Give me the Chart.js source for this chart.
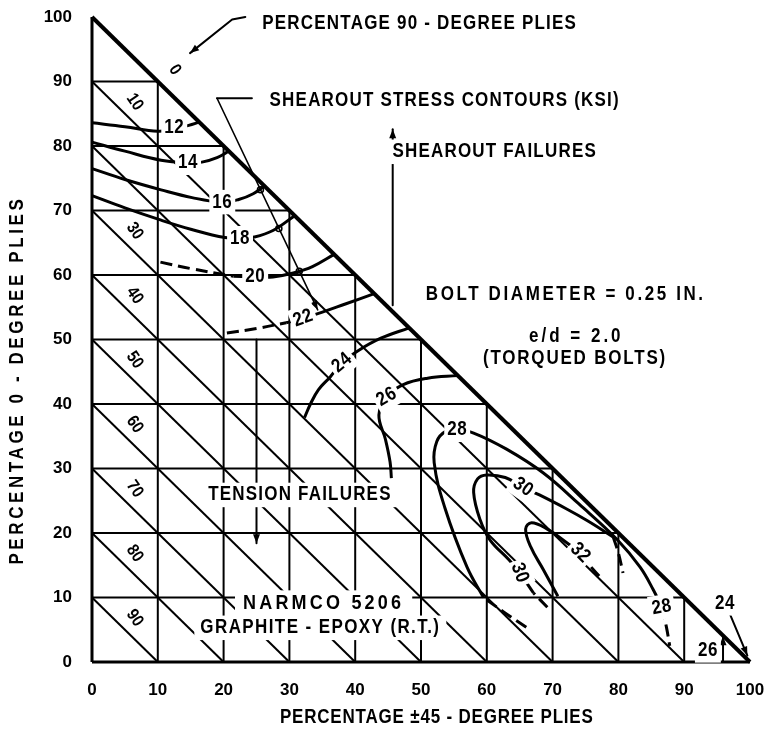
<!DOCTYPE html>
<html>
<head>
<meta charset="utf-8">
<script src="https://cdn.jsdelivr.net/npm/chart.js@4.4.0/dist/chart.umd.min.js"></script>
<style>
  html, body { margin: 0; padding: 0; background: #fff; }
  #wrap { width: 775px; height: 745px; }
</style>
</head>
<body>
<div id="wrap"><canvas id="c" width="775" height="745"></canvas></div>
<script>
// Laminate composition grid: % 0-degree plies (y) vs % ±45-degree plies (x);
// the remainder is 90-degree plies, so the lines x + y = const carry those labels.
const tickValues = [0, 10, 20, 30, 40, 50, 60, 70, 80, 90, 100];
const ply90Labels = [0, 10, 30, 40, 50, 60, 70, 80, 90];

// Shearout stress contours (ksi), each as [% ±45, % 0-degree] points
const ksi12 = [[0, 83.6], [5, 83], [10, 82.3], [12.5, 82.6], [14.7, 83.2], [16.3, 83.7]];
const ksi14 = [[0, 80.6], [5, 79.2], [10.5, 77.8], [14.6, 77.4], [16.7, 77.5], [19, 78.2], [20.8, 79.2]];
const ksi16 = [[0, 76.5], [5, 74.8], [10.5, 73.2], [15.2, 72], [19.8, 71.3], [22.3, 71.7], [24.5, 72.6], [26.2, 73.8]];
const ksi18 = [[0, 72.3], [5, 70.4], [10.5, 68.5], [15, 67.1], [20.2, 65.8], [22.5, 65.7], [24.7, 65.9], [27.5, 66.9], [30.8, 69.2]];
const ksi20Dash = [[10.4, 62], [15, 61], [21.5, 59.8]];
const ksi20 = [[21.5, 59.8], [24.8, 59.7], [27.5, 59.7], [30.6, 60.3], [33.5, 61.3], [36.8, 63.2]];
const ksi22Dash = [[20.5, 51], [25, 51.7], [29.5, 52.6]];
const ksi22 = [[29.5, 52.6], [32.1, 53.3], [34.9, 54.2], [38.5, 55.5], [42.9, 57.1]];
const ksi24 = [[32.3, 37.9], [33.2, 40], [34.4, 42.2], [36.2, 44.2], [38, 46.4], [40.5, 48.3], [43.9, 50.2], [48.2, 51.8]];
const ksi26 = [[45.5, 28.5], [45.3, 31], [44.6, 34.5], [43.6, 38.3], [44.8, 41.1], [47.3, 43], [51, 44], [55.6, 44.4]];
const ksi28 = [[59.5, 10], [57, 14.7], [53.6, 24], [52, 30.9], [52.4, 34.2], [53.8, 35.8], [55.5, 36], [58, 35.5], [63, 33], [68.6, 29.3], [74, 24.5], [79.8, 19], [83.3, 14.7], [85.3, 11.2], [86.6, 8.5]];
const ksi28DashLeft = [[66, 5.4], [62.5, 7.8], [59.5, 10]];
const ksi28DashRight = [[86.6, 8.5], [87.3, 5.4], [87.8, 2.5]];
const ksi30 = [[67.1, 10.7], [65, 13.8], [63.4, 15.8], [60.5, 18.9], [59, 22], [58, 26.3], [58.6, 28.4], [60, 29], [62.8, 28.6], [65.5, 27.1], [68, 25.9], [72, 23.8], [75.3, 21.9], [79.2, 19.4]];
const ksi30DashLow = [[69.2, 8.5], [67.1, 10.7]];
const ksi30DashRight = [[79.2, 19.4], [80, 16.9], [80.7, 13.8]];
const ksi32 = [[70.8, 10.2], [68.6, 14.3], [66.7, 17.8], [65.9, 20.6], [66.8, 21.6], [69.2, 20.6], [72, 18.6], [74.2, 16.9]];
const ksi32Dash = [[74.2, 16.9], [76.2, 14.3], [77.7, 12.7]];

const FONT = '"Liberation Sans", Arial, sans-serif';
const INK = '#000';

function line(points, width, opts = {}) {
  return Object.assign({
    data: points.map(([x, y]) => ({ x, y })),
    showLine: true,
    borderColor: INK,
    borderWidth: width,
    pointRadius: 0,
    tension: 0,
    fill: false,
    clip: false
  }, opts);
}

// Triangle grid built from the tick values
const datasets = [];
const inner = tickValues.filter(v => v > 0 && v < 100);
inner.forEach(v => {
  datasets.push(line([[0, v], [100 - v, v]], 2));   // constant % 0-degree
  datasets.push(line([[v, 0], [v, 100 - v]], 2));   // constant % ±45
  datasets.push(line([[0, v], [v, 0]], 2));         // constant % 90-degree
});
datasets.push(line([[0, 0], [0, 100]], 3));
datasets.push(line([[0, 0], [100, 0]], 3));
datasets.push(line([[0, 100], [100, 0]], 4));

// Contours
const curve = { tension: 0.4 };
const dashed = { tension: 0.4, borderDash: [12, 6] };
[ksi12, ksi14, ksi16, ksi18, ksi20, ksi22, ksi24, ksi26, ksi28, ksi30, ksi32]
  .forEach(c => datasets.push(line(c, 3, curve)));
[ksi20Dash, ksi22Dash, ksi28DashLeft, ksi28DashRight, ksi30DashLow, ksi30DashRight, ksi32Dash]
  .forEach(c => datasets.push(line(c, 3, dashed)));

// Lettering helper: bold, slightly tall strokes, optional white backing
function letter(ctx, text, px, py, o = {}) {
  const size = o.size || 17;
  ctx.save();
  ctx.translate(px, py);
  if (o.rot) ctx.rotate(o.rot * Math.PI / 180);
  ctx.font = `bold ${size}px ${FONT}`;
  ctx.letterSpacing = (o.ls == null ? 1.2 : o.ls) + 'px';
  const w = ctx.measureText(text).width;
  if (o.bg != null) {
    ctx.fillStyle = '#fff';
    ctx.fillRect(-w / 2 - o.bg, -size * 0.72, w + 2 * o.bg, size * 1.44);
  }
  ctx.fillStyle = INK;
  ctx.textAlign = 'center';
  ctx.textBaseline = 'middle';
  ctx.scale(1, o.sy || 1.15);
  ctx.fillText(text, 0, 0);
  ctx.restore();
}

function arrowHead(ctx, x0, y0, x1, y1, len = 9, half = 3.5) {
  const a = Math.atan2(y1 - y0, x1 - x0);
  ctx.beginPath();
  ctx.moveTo(x1, y1);
  ctx.lineTo(x1 - len * Math.cos(a) + half * Math.sin(a), y1 - len * Math.sin(a) - half * Math.cos(a));
  ctx.lineTo(x1 - len * Math.cos(a) - half * Math.sin(a), y1 - len * Math.sin(a) + half * Math.cos(a));
  ctx.closePath();
  ctx.fill();
}

const notes = {
  id: 'notes',
  afterDatasetsDraw(chart) {
    const { ctx, scales: { x, y } } = chart;
    const X = v => x.getPixelForValue(v);
    const Y = v => y.getPixelForValue(v);
    ctx.save();
    ctx.strokeStyle = INK;
    ctx.fillStyle = INK;
    ctx.lineCap = 'round';
    ctx.lineJoin = 'round';

    const path = (pts, w = 2) => {
      ctx.lineWidth = w;
      ctx.beginPath();
      pts.forEach(([a, b], i) => i ? ctx.lineTo(X(a), Y(b)) : ctx.moveTo(X(a), Y(b)));
      ctx.stroke();
    };
    const arrowTo = (pts, w = 2) => {
      path(pts, w);
      const n = pts.length;
      arrowHead(ctx, X(pts[n - 2][0]), Y(pts[n - 2][1]), X(pts[n - 1][0]), Y(pts[n - 1][1]));
    };
    const ring = (a, b) => {
      ctx.lineWidth = 1.5;
      ctx.beginPath();
      ctx.arc(X(a), Y(b), 3, 0, Math.PI * 2);
      ctx.stroke();
    };

    // leaders
    arrowTo([[23.3, 100], [21.3, 99.6], [14.9, 94.4]]);
    path([[24.3, 87.4], [19.0, 87.4]]);
    arrowTo([[19.0, 87.4], [34.3, 54.6]], 1.6);
    [[25.6, 73.2], [28.4, 67.2], [31.5, 60.6]].forEach(([a, b]) => ring(a, b));
    path([[45.7, 77.4], [45.7, 55.3]]);
    arrowTo([[45.7, 80.5], [45.7, 82.6]]);
    arrowTo([[25, 50], [25, 18.4]]);
    arrowTo([[97, 7.3], [99.6, 1.0]]);
    arrowTo([[95.9, 0], [95.9, 4.0]]);

    // 90-degree ply percentages along the diagonals
    ply90Labels.forEach(p => {
      if (p === 0) letter(ctx, '0', X(12.6), Y(91.8), { size: 15, rot: 55, ls: 0 });
      else letter(ctx, String(p), X(6.5), Y(100 - p - 3.2), { size: 15, rot: 55, ls: 0 });
    });

    // axis titles
    letter(ctx, 'PERCENTAGE ±45 - DEGREE PLIES', X(52.4), chart.height - 27, { size: 17, ls: 0.8 });
    letter(ctx, 'PERCENTAGE 0 - DEGREE PLIES', 18, Y(43.7), { size: 17, rot: -90, ls: 3.6 });

    // notes
    letter(ctx, 'PERCENTAGE 90 - DEGREE PLIES', X(49.8), Y(98.9), { size: 17 });
    letter(ctx, 'SHEAROUT STRESS CONTOURS (KSI)', X(53.6), Y(87.1), { size: 17 });
    letter(ctx, 'SHEAROUT FAILURES', X(61.2), Y(79.1), { size: 17, bg: 3 });
    letter(ctx, 'BOLT DIAMETER = 0.25 IN.', X(72), Y(56.9), { size: 17, ls: 2.6 });
    letter(ctx, 'e/d = 2.0', X(73.6), Y(50.4), { size: 17, ls: 3 });
    letter(ctx, '(TORQUED BOLTS)', X(73.4), Y(47.1), { size: 17, ls: 1.8 });
    letter(ctx, 'TENSION FAILURES', X(31.6), Y(25.9), { size: 17, bg: 6 });
    letter(ctx, 'NARMCO 5206', X(35.2), Y(9.1), { size: 18, bg: 8, ls: 3.2 });
    letter(ctx, 'GRAPHITE - EPOXY (R.T.)', X(34.7), Y(5.3), { size: 17, bg: 6, ls: 1.4 });

    // contour values
    const ksiTags = [
      ['12', 12.5, 82.9, 0], ['14', 14.6, 77.4, 0], ['16', 19.8, 71.3, 0],
      ['18', 22.5, 65.7, 0], ['20', 24.8, 59.7, 0], ['22', 32.1, 53.3, -20],
      ['24', 38, 46.4, -40], ['26', 44.8, 41.1, -30], ['28', 55.5, 36, 0],
      ['30', 65.5, 27.1, 35], ['32', 74.2, 16.9, 45], ['30', 65, 13.8, 70],
      ['28', 86.6, 8.5, -10], ['24', 96.2, 9.1, 0], ['26', 93.6, 1.8, 0]
    ];
    ksiTags.forEach(([t, a, b, r]) => letter(ctx, t, X(a), Y(b), { size: 17, rot: r, bg: 3, ls: 0.5 }));
    ctx.restore();
  }
};

const tickFont = { family: FONT, size: 17, weight: 'bold' };

new Chart(document.getElementById('c'), {
  type: 'scatter',
  data: { datasets },
  options: {
    responsive: false,
    animation: false,
    events: [],
    layout: { padding: { top: 17, right: 25, bottom: 0, left: 0 } },
    plugins: { legend: { display: false }, tooltip: { enabled: false } },
    scales: {
      x: {
        type: 'linear', min: 0, max: 100, position: 'bottom',
        afterBuildTicks: s => { s.ticks = tickValues.map(v => ({ value: v })); },
        grid: { display: false, drawTicks: false },
        border: { display: false },
        ticks: { color: INK, font: tickFont, padding: 18, maxRotation: 0 },
        title: { display: false },
        afterFit: s => { s.height = 83; s.paddingLeft = 0; s.paddingRight = 0; }
      },
      y: {
        type: 'linear', min: 0, max: 100, position: 'left',
        afterBuildTicks: s => { s.ticks = tickValues.map(v => ({ value: v })); },
        grid: { display: false, drawTicks: false },
        border: { display: false },
        ticks: { color: INK, font: tickFont, padding: 20 },
        title: { display: false },
        afterFit: s => { s.width = 92; s.paddingTop = 0; s.paddingBottom = 0; }
      }
    }
  },
  plugins: [notes]
});
</script>
</body>
</html>
